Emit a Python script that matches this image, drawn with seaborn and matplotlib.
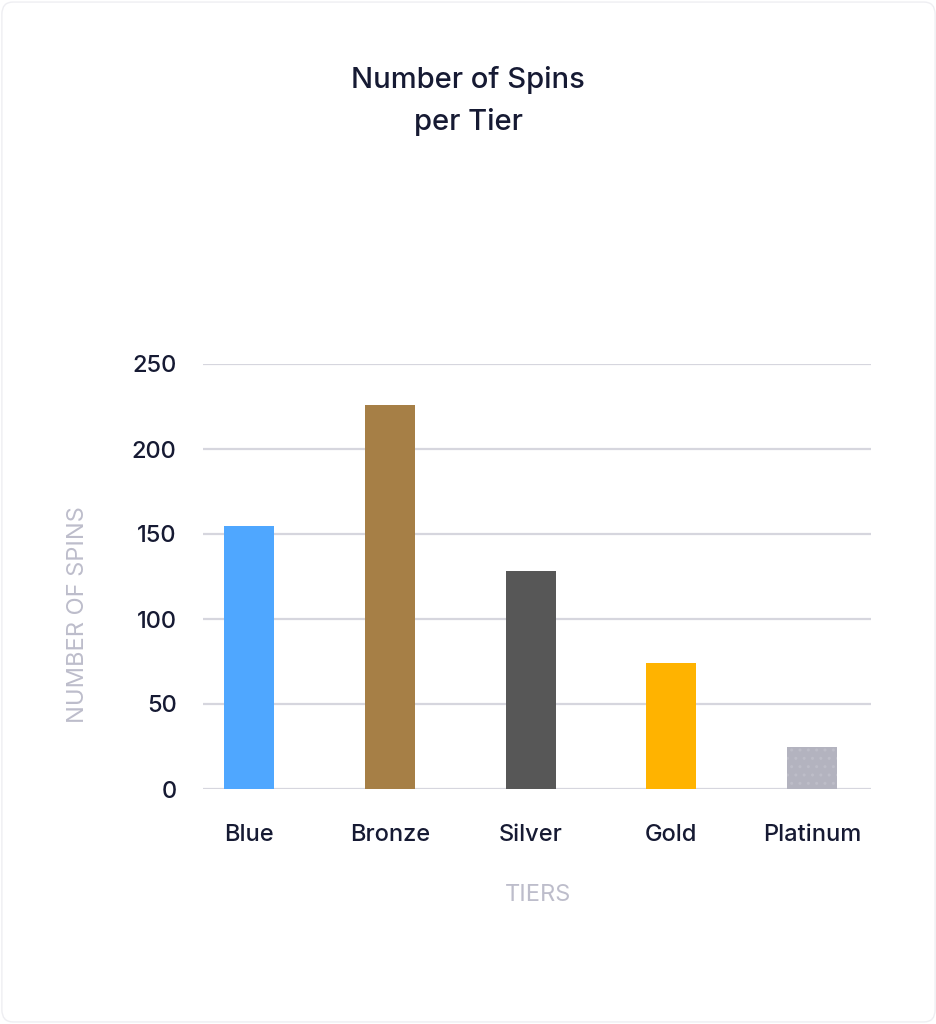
import matplotlib
matplotlib.use("Agg")
import matplotlib.pyplot as plt
from matplotlib.patches import FancyBboxPatch
import pandas as pd
import seaborn as sns

tiers = ["Blue", "Bronze", "Silver", "Gold", "Platinum"]
spins = [155, 226, 128, 74, 25]
tier_colors = ["#4FA7FF", "#A67F46", "#575757", "#FFB300", "#B3B3BF"]
y_ticks = [0, 50, 100, 150, 200, 250]

df = pd.DataFrame({"tier": tiers, "spins": spins})

sns.set_theme(style="white")
plt.rcParams["font.family"] = ["Inter", "DejaVu Sans"]

fig = plt.figure(figsize=(9.37, 10.24), dpi=100)
fig.patch.set_facecolor("white")

# rounded card outline
card = FancyBboxPatch((0.002, 0.002), 0.996, 0.996,
                      boxstyle="round,pad=0,rounding_size=0.012",
                      transform=fig.transFigure, facecolor="white",
                      edgecolor="#EEEEF2", linewidth=1.0, zorder=-10)
fig.patches.append(card)

ax = fig.add_axes([203 / 937, 1 - 789 / 1024, 668 / 937, 425 / 1024])
ax.set_facecolor("none")

sns.barplot(data=df, x="tier", y="spins", hue="tier",
            palette=dict(zip(tiers, tier_colors)), order=tiers,
            hue_order=tiers, width=0.355, legend=False, saturation=1,
            linewidth=0, ax=ax, zorder=3)

# faint dotted texture on the platinum bar
plat = ax.patches[tiers.index("Platinum")]
plat.set_hatch("..")
plat.set_edgecolor("#BDBDC8")
plat.set_linewidth(0)

ax.set_xlim(-0.328, 4.419)
ax.set_ylim(0, 250)
ax.set_yticks(y_ticks)
ax.set_yticklabels([str(t) for t in y_ticks])
ax.yaxis.grid(True, color="#D6D6DE", linewidth=1.6, zorder=0)
ax.xaxis.grid(False)
for s in ax.spines.values():
    s.set_visible(False)

ax.tick_params(axis="y", length=0, pad=19, labelsize=17, labelcolor="#161A33")
ax.tick_params(axis="x", length=0, pad=25, labelsize=17, labelcolor="#161A33")
for lbl in ax.get_xticklabels() + ax.get_yticklabels():
    lbl.set_fontweight("medium")
ax.set_xlabel("")
ax.set_ylabel("")

fig.text(78 / 937, 1 - 615 / 1024, "NUMBER OF SPINS", rotation=90,
         ha="center", va="center", fontsize=17, color="#BDBDCB")
fig.text(538 / 937, 1 - 895 / 1024, "TIERS", ha="center", va="center",
         fontsize=17, color="#BDBDCB")

fig.text(468 / 937, 1 - 80 / 1024, "Number of Spins", ha="center",
         va="center", fontsize=21, fontweight="medium", color="#161A33")
fig.text(468 / 937, 1 - 122 / 1024, "per Tier", ha="center",
         va="center", fontsize=21, fontweight="medium", color="#161A33")

fig.savefig("out.png", dpi=100, facecolor="white")
